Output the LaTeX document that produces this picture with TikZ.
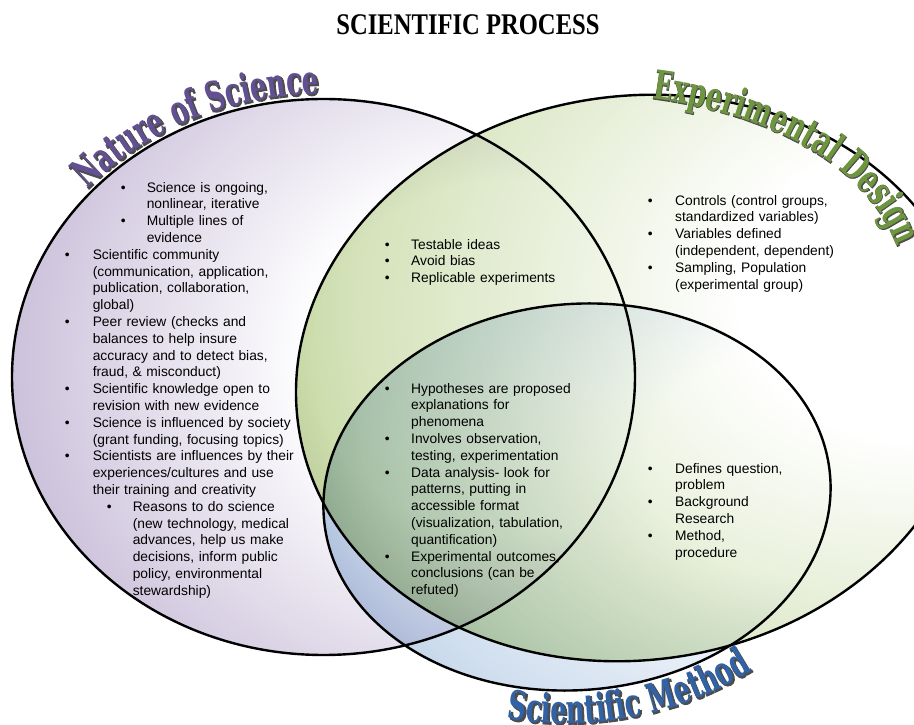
\documentclass[tikz,border=0pt]{standalone}
\usepackage{fontspec}
\setmainfont{Liberation Sans}
\newfontfamily\titlefont[FakeStretch=0.82]{Liberation Serif}
\newfontfamily\arcfont[FakeStretch=0.64]{DejaVu Serif}
\newfontfamily\arcshadowfont[FakeStretch=0.64, FakeBold=2]{DejaVu Serif}
\usetikzlibrary{decorations.text}

\definecolor{nosfill}{RGB}{118,90,158}
\definecolor{edfill}{RGB}{150,184,84}
\definecolor{smfill}{RGB}{128,166,210}
\definecolor{nostxt}{RGB}{98,80,146}
\definecolor{edtxt}{RGB}{110,150,62}
\definecolor{smtxt}{RGB}{50,98,166}

\pgfdeclareradialshading{nosshade}{\pgfpoint{18bp}{2bp}}{color(0bp)=(white); color(16bp)=(white); color(38bp)=(nosfill!40!white); color(56bp)=(nosfill); color(100bp)=(nosfill)}
\pgfdeclareradialshading{edshade}{\pgfpoint{22bp}{8bp}}{color(0bp)=(white); color(12bp)=(white); color(34bp)=(edfill!40!white); color(54bp)=(edfill); color(100bp)=(edfill)}
\pgfdeclareradialshading{smshade}{\pgfpoint{24bp}{5bp}}{color(0bp)=(white); color(14bp)=(white); color(36bp)=(smfill!40!white); color(54bp)=(smfill); color(100bp)=(smfill)}

% bullet item: bullet indent, text indent, text
\newcommand{\bitem}[3]{\par\leftskip=#2\relax\noindent\llap{\makebox[\dimexpr#2-#1\relax][l]{\textbullet}}\strut#3\par}

\tikzset{
  block/.style={anchor=north west, inner sep=0pt, text width=300pt, align=left,
    font=\fontsize{13.8pt}{16.8pt}\selectfont},
  ring/.style={draw=black, line width=2.4pt},
  arctext/.style 2 args={decorate, decoration={text along path,
    text={|\arcfont\bfseries\fontsize{40pt}{40pt}\selectfont\color{#1}|#2}}},
  arcshadow/.style={decorate, decoration={text along path,
    text={|\arcshadowfont\bfseries\fontsize{40pt}{40pt}\selectfont\color{black!70}|#1}}}
}

\begin{document}
\begin{tikzpicture}[x=1pt, y=1pt]
  \useasboundingbox (0,0) rectangle (914,724);

  % circles
  \shade[shading=edshade, blend mode=multiply, rotate around={8:(635,346)}] (635,346) ellipse [x radius=340pt, y radius=282pt];
  \shade[shading=nosshade, blend mode=multiply] (323.5,347) ellipse [x radius=311.5pt, y radius=278pt];
  \shade[shading=smshade, blend mode=multiply, rotate around={5:(577,227)}] (577,227) ellipse [x radius=254pt, y radius=193pt];

  \path[ring, rotate around={8:(635,346)}] (635,346) ellipse [x radius=340pt, y radius=282pt];
  \path[ring] (323.5,347) ellipse [x radius=311.5pt, y radius=278pt];
  \path[ring, rotate around={5:(577,227)}] (577,227) ellipse [x radius=254pt, y radius=193pt];

  % curved titles
  \path[arcshadow={Nature of Science}, decoration={text align=center}, shift={(1.2,-1.2)}] (323.5,347) ++(150:316pt and 283pt) arc[start angle=150, end angle=80, x radius=316pt, y radius=283pt];
  \path[arctext={nostxt}{Nature of Science}, decoration={text align=center}] (323.5,347) ++(150:316pt and 283pt) arc[start angle=150, end angle=80, x radius=316pt, y radius=283pt];

  \coordinate (edstart) at (652,625);
  \coordinate (edend) at (897,478);
  \path[arcshadow={Experimental Design}, decoration={text align=left}, shift={(1.2,-1.2)}] (edstart) .. controls (758,612) and (862,566) .. (edend);
  \path[arctext={edtxt}{Experimental Design}, decoration={text align=left}] (edstart) .. controls (758,612) and (862,566) .. (edend);

  \path[arcshadow={Scientific Method}, decoration={text align=center}, shift={(1.2,-1.2)}, rotate around={5:(577,227)}] (577,227) ++(245:287pt and 226pt) arc[start angle=245, end angle=311, x radius=287pt, y radius=226pt];
  \path[arctext={smtxt}{Scientific Method}, decoration={text align=center}, rotate around={5:(577,227)}] (577,227) ++(245:287pt and 226pt) arc[start angle=245, end angle=311, x radius=287pt, y radius=226pt];

  \node (title) at (468,699) {\titlefont\bfseries\fontsize{30pt}{30pt}\selectfont SCIENTIFIC PROCESS};

  % text blocks
  \node[block] (nature) at (64.6,548.8) {%
    \bitem{56pt}{82pt}{Science is ongoing,\\nonlinear, iterative}
    \bitem{56pt}{82pt}{Multiple lines of\\evidence}
    \bitem{0pt}{28pt}{Scientific community\\(communication, application,\\publication, collaboration,\\global)}
    \bitem{0pt}{28pt}{Peer review (checks and\\balances to help insure\\accuracy and to detect bias,\\fraud, \& misconduct)}
    \bitem{0pt}{28pt}{Scientific knowledge open to\\revision with new evidence}
    \bitem{0pt}{28pt}{Science is influenced by society\\(grant funding, focusing topics)}
    \bitem{0pt}{28pt}{Scientists are influences by their\\experiences/cultures and use\\their training and creativity}
    \bitem{42pt}{68pt}{Reasons to do science\\(new technology, medical\\advances, help us make\\decisions, inform public\\policy, environmental\\stewardship)}};

  \node[block] (shared) at (384.6,491.8) {%
    \bitem{0pt}{26.4pt}{Testable ideas}
    \bitem{0pt}{26.4pt}{Avoid bias}
    \bitem{0pt}{26.4pt}{Replicable experiments}};

  \node[block] (design) at (647.6,535.8) {%
    \bitem{0pt}{27.4pt}{Controls (control groups,\\standardized variables)}
    \bitem{0pt}{27.4pt}{Variables defined\\(independent, dependent)}
    \bitem{0pt}{27.4pt}{Sampling, Population\\(experimental group)}};

  \node[block] (core) at (384.6,347.8) {%
    \bitem{0pt}{26.4pt}{Hypotheses are proposed\\explanations for\\phenomena}
    \bitem{0pt}{26.4pt}{Involves observation,\\testing, experimentation}
    \bitem{0pt}{26.4pt}{Data analysis- look for\\patterns, putting in\\accessible format\\(visualization, tabulation,\\quantification)}
    \bitem{0pt}{26.4pt}{Experimental outcomes,\\conclusions (can be\\refuted)}};

  \node[block] (method) at (647.6,267.8) {%
    \bitem{0pt}{27.4pt}{Defines question,\\problem}
    \bitem{0pt}{27.4pt}{Background\\Research}
    \bitem{0pt}{27.4pt}{Method,\\procedure}};
\end{tikzpicture}
\end{document}
